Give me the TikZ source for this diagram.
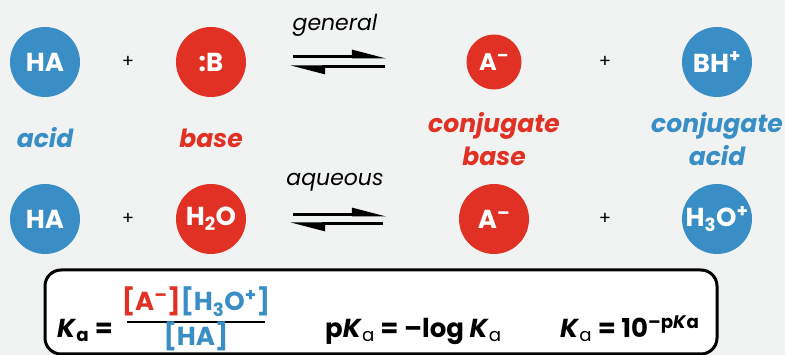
\documentclass[tikz,border=0pt]{standalone}
\usepackage{fontspec}
\setmainfont{Poppins}
\usetikzlibrary{arrows.meta}
\definecolor{acidblue}{RGB}{56,142,197}
\definecolor{basered}{RGB}{224,49,36}
\definecolor{paper}{RGB}{241,242,242}
\newcommand{\fs}[1]{\fontsize{#1}{#1}\selectfont}
\newcommand{\chg}[1]{\textsuperscript{#1}}
\newcommand{\idx}[1]{\textsubscript{#1}}
\newcommand{\suba}{\textsubscript{\mdseries a}}

\tikzset{
  mol/.style={circle, fill=#1, inner sep=0pt, minimum size=70pt, text=white,
              font=\fs{26}\bfseries},
  molsm/.style={mol=#1, minimum size=55pt, font=\fs{24}\bfseries},
  plus/.style={font=\fs{18}},
  role/.style={text=#1, font=\fontsize{25}{33}\selectfont\bfseries\itshape, align=center},
  cond/.style={font=\fs{22}\itshape},
  eqline/.style={line width=3pt, -{Triangle[left,length=29pt,width=14pt]}},
  frm/.style={font=\fs{26}\bfseries, anchor=base west, inner sep=0pt},
}

\begin{document}
\begin{tikzpicture}[x=1pt,y=1pt]
\fill[paper] (0,0) rectangle (785,355);
\useasboundingbox (0,0) rectangle (785,355);

% general reaction
\node[mol=acidblue] (ha1) at (45,293) {HA};
\node[plus] (p1) at (128,293) {+};
\node[mol=basered] (b1) at (211,293) {:B};
\node[molsm=basered] (cb1) at (494,293) {A\chg{–}};
\node[plus] (p2) at (605,293) {+};
\node[mol=acidblue] (ca1) at (717,293) {BH\chg{+}};

\node[cond] (tg) at (335,330) {general};
\coordinate (f1s) at (293,298); \coordinate (f1e) at (387,298);
\coordinate (r1s) at (385,288); \coordinate (r1e) at (290,288);
\draw[eqline] (f1s) -- (f1e);
\draw[eqline] (r1s) -- (r1e);

% roles
\node[role=acidblue] (lacid) at (45,217) {acid};
\node[role=basered] (lbase) at (211,217) {base};
\node[role=basered] (lcb) at (494,216) {conjugate\\base};
\node[role=acidblue] (lca) at (717,216) {conjugate\\acid};

% aqueous reaction
\node[mol=acidblue] (ha2) at (45,136) {HA};
\node[plus] (p3) at (128,136) {+};
\node[mol=basered] (w) at (211,136) {H\idx{2}O};
\node[mol=basered] (cb2) at (494,136) {A\chg{–}};
\node[plus] (p4) at (605,136) {+};
\node[mol=acidblue] (h3o) at (717,136) {H\idx{3}O\chg{+}};

\node[cond] (ta) at (335,173) {aqueous};
\coordinate (f2s) at (293,140); \coordinate (f2e) at (387,140);
\coordinate (r2s) at (383,131); \coordinate (r2e) at (290,131);
\draw[eqline] (f2s) -- (f2e);
\draw[eqline] (r2s) -- (r2e);

% acidity constant box
\node[draw=black, line width=3pt, rounded corners=16pt, fill=white,
      minimum width=672pt, minimum height=84pt, inner sep=0pt] (kbox) at (381,43) {};

\node[frm] (ka) at (57,17) {\textit{K}\idx{a} =};
\node[frm, anchor=base] (num) at (196,44)
  {\textcolor{basered}{[A\chg{–}]}\textcolor{acidblue}{[H\idx{3}O\chg{+}]}};
\coordinate (barl) at (127,33); \coordinate (barr) at (265,33);
\draw[line width=2.5pt] (barl) -- (barr);
\node[frm, anchor=base, text=acidblue] (den) at (196,9) {[HA]};
\node[frm] (pka) at (325,17) {p\textit{K}\suba{} = –log \textit{K}\suba};
\node[frm] (ka2) at (560,17) {\textit{K}\suba{} = 10\chg{–p\textit{K}a}};
\end{tikzpicture}
\end{document}
